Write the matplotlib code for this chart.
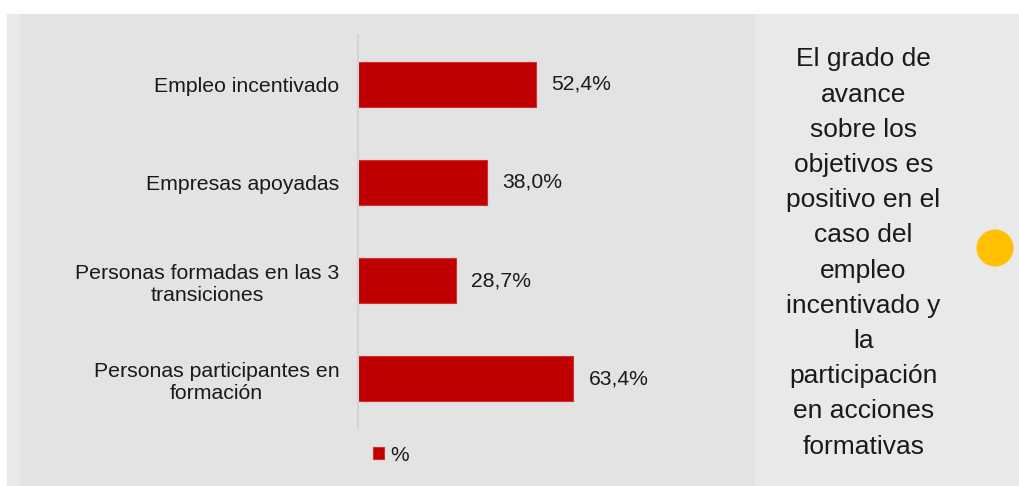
import matplotlib
matplotlib.use("Agg")
import matplotlib.pyplot as plt
from matplotlib.patches import Rectangle, Ellipse

plt.rcParams['font.family'] = ['Liberation Sans', 'DejaVu Sans']

categories = ["Empleo incentivado", "Empresas apoyadas",
              "Personas formadas en las 3\ntransiciones",
              "Personas participantes en\nformación"]
values = [52.4, 38.0, 28.7, 63.4]
value_labels = ["52,4%", "38,0%", "28,7%", "63,4%"]
series_name = "%"
side_text = ("El grado de\navance\nsobre los\nobjetivos es\npositivo en el\ncaso del\nempleo\n"
             "incentivado y\nla\nparticipación\nen acciones\nformativas")

W, H = 1020, 486
fig = plt.figure(figsize=(W / 100, H / 100), dpi=100, facecolor='white')

# background panels
fig.patches.append(Rectangle((7 / W, 0), 13 / W, 472 / H, transform=fig.transFigure,
                             facecolor='#e9e9e9', edgecolor='none', zorder=-3))
fig.patches.append(Rectangle((20 / W, 0), 735 / W, 472 / H, transform=fig.transFigure,
                             facecolor='#e3e3e3', edgecolor='none', zorder=-3))
fig.patches.append(Rectangle((755 / W, 0), 300 / W, 472 / H, transform=fig.transFigure,
                             facecolor='#e9e9e9', edgecolor='none', zorder=-3))
fig.patches.append(Ellipse((995 / W, 1 - 248 / H), 37 / W, 37 / H, transform=fig.transFigure,
                           facecolor='#FFC000', edgecolor='none', zorder=-2))

ax = fig.add_axes([358 / W, 1 - 428 / H, 387 / W, 393 / H])
ax.set_zorder(2)
ax.set_facecolor('none')
ypos = list(range(len(categories)))
bars = ax.barh(ypos, values, height=0.46, color='#C00000', edgecolor='#d03232',
               linewidth=0.8, label=series_name)
ax.set_ylim(len(categories) - 0.5, -0.5)
ax.set_xlim(0, 113.9)
ax.set_yticks(ypos)
ax.set_yticklabels(categories, fontsize=15.3, color='#1a1a1a', multialignment='center')
ax.tick_params(axis='y', length=0, pad=13.5)
ax.set_xticks([])
for s in ['top', 'right', 'bottom']:
    ax.spines[s].set_visible(False)
ax.spines['left'].set_color('#d4d4d4')
ax.spines['left'].set_linewidth(1.5)
ax.bar_label(bars, labels=value_labels, padding=11, fontsize=15.2, color='#1a1a1a')

leg = fig.legend(handles=[bars], labels=[series_name], loc='center',
                 bbox_to_anchor=(391 / W, 1 - 455 / H), frameon=False, fontsize=15,
                 handlelength=0.52, handleheight=0.52, handletextpad=0.3)
for t in leg.get_texts():
    t.set_color('#1a1a1a')

fig.text(863.5 / W, 1 - 253 / H, side_text, ha='center', va='center',
         fontsize=19, linespacing=1.59, color='#1a1a1a', multialignment='center')

fig.savefig('out.png', dpi=100, facecolor='white')
